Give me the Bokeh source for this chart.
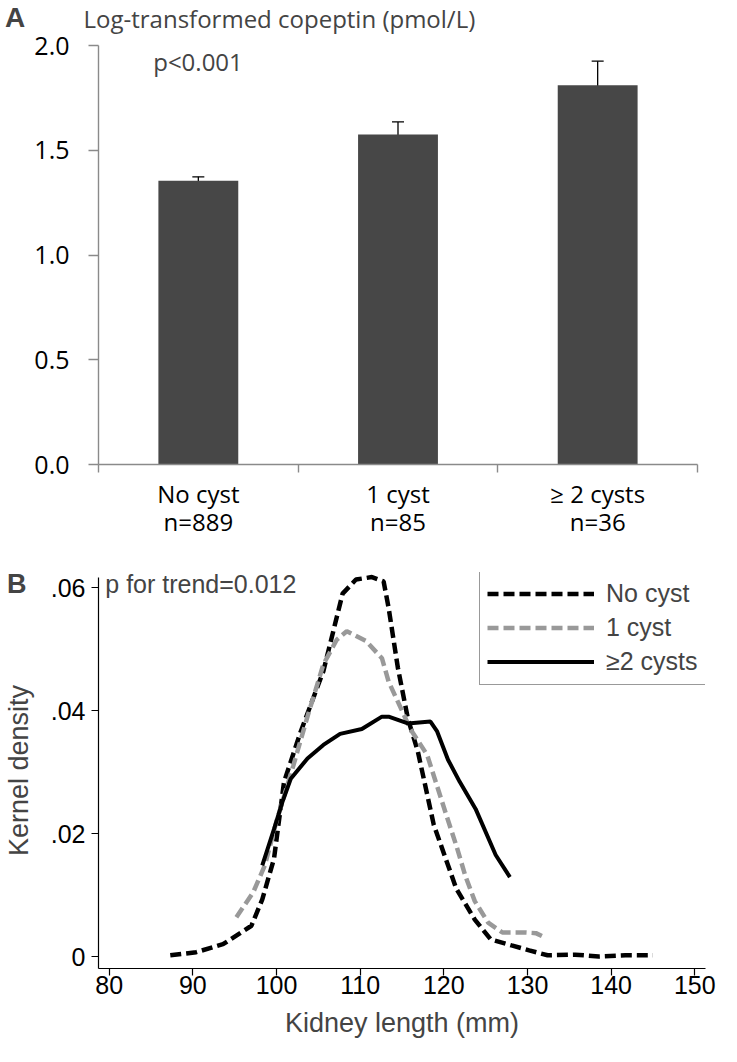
from bokeh.plotting import figure
from bokeh.layouts import column
from bokeh.models import (Range1d, LinearAxis, FixedTicker, PrintfTickFormatter, Whisker,
                          TeeHead, ColumnDataSource, Label, Legend, LegendItem)
from bokeh.embed import file_html
from bokeh.resources import INLINE

# ---------------- data: panel A ----------------
categories = ["No cyst", "1 cyst", "\u2265 2 cysts"]
n_labels = ["n=889", "n=85", "n=36"]
copeptin_mean = [1.355, 1.575, 1.81]
copeptin_low = [1.335, 1.52, 1.69]
copeptin_high = [1.373, 1.635, 1.925]
y_ticks_a = [0.0, 0.5, 1.0, 1.5, 2.0]

# ---------------- data: panel B ----------------
no_cyst_x = [87.3, 90.4, 93.6, 97.0, 98.3, 99.7, 100.9, 102.9, 105.6, 107.9, 109.5, 111.4, 112.8,
             113.4, 114.5, 115.7, 116.9, 118.8, 121.5, 123.7, 125.6, 128.1, 130.2, 132.4, 135.7,
             138.5, 141.7, 145.0]
no_cyst_y = [0.0002, 0.0007, 0.002, 0.005, 0.0093, 0.0159, 0.0284, 0.0366, 0.0464, 0.059, 0.0613,
             0.0617, 0.061, 0.0567, 0.047, 0.0387, 0.0333, 0.0214, 0.011, 0.006, 0.0028, 0.0018,
             0.001, 0.0002, 0.0003, 0.0, 0.0002, 0.0002]
one_cyst_x = [95.2, 97.2, 98.6, 100.0, 102.0, 103.7, 105.6, 107.2, 108.4, 110.7, 112.6, 113.4,
              116.0, 118.0, 120.3, 121.5, 122.6, 123.7, 125.3, 127.0, 129.8, 131.0, 132.2]
one_cyst_y = [0.0064, 0.0104, 0.0148, 0.022, 0.031, 0.039, 0.0475, 0.0515, 0.0529, 0.0513, 0.0485,
              0.0447, 0.037, 0.0328, 0.023, 0.018, 0.013, 0.009, 0.0055, 0.0039, 0.0039, 0.0038,
              0.003]
two_cyst_x = [98.3, 99.7, 100.7, 101.7, 103.7, 105.6, 107.6, 110.2, 112.6, 113.4, 115.7, 118.4,
              119.2, 120.5, 121.9, 123.8, 126.2, 127.9]
two_cyst_y = [0.0148, 0.0207, 0.0251, 0.0289, 0.0322, 0.0344, 0.0362, 0.037, 0.039, 0.039, 0.0379,
              0.0382, 0.0366, 0.032, 0.0284, 0.024, 0.0165, 0.0129]
x_ticks_b = [80, 90, 100, 110, 120, 130, 140, 150]
y_ticks_b = [0.0, 0.02, 0.04, 0.06]
y_tick_labels_b = ["0", ".02", ".04", ".06"]
legend_labels = ["No cyst", "1 cyst", "\u22652 cysts"]

FONT_A = "Open Sans"
FONT_B = "Liberation Sans"
GRAY_AX = "#8a8a8a"

# ================= Panel A =================
pa = figure(width=721, height=540, x_range=Range1d(0, 3), y_range=Range1d(0, 2.0),
            output_backend="svg", toolbar_location=None, title=None,
            x_axis_location=None, y_axis_location=None,
            min_border_left=94, min_border_right=24, min_border_top=45, min_border_bottom=76)
pa.outline_line_color = None
pa.xgrid.visible = False
pa.ygrid.visible = False

positions = [i + 0.5 for i in range(len(categories))]
src_a = ColumnDataSource(dict(x=positions, top=copeptin_mean, low=copeptin_low, high=copeptin_high))
pa.vbar(x="x", top="top", bottom=0, width=0.4, source=src_a, fill_color="#474747", line_color=None)
wh = Whisker(base="x", upper="high", lower="low", source=src_a, line_color="black", line_width=1.3,
             upper_head=TeeHead(size=12, line_color="black", line_width=1.3),
             lower_head=TeeHead(size=12, line_color="black", line_width=1.3))
pa.add_layout(wh)

ya = LinearAxis(ticker=FixedTicker(ticks=y_ticks_a), formatter=PrintfTickFormatter(format="%.1f"),
                axis_line_color=GRAY_AX, axis_line_width=1.4,
                major_tick_line_color=GRAY_AX, major_tick_line_width=1.4,
                major_tick_in=0, major_tick_out=10, minor_tick_line_color=None,
                major_label_standoff=19, major_label_text_font=FONT_A,
                major_label_text_font_size="25px", major_label_text_color="black")
pa.add_layout(ya, "left")

bounds = list(range(len(categories) + 1))
xa = LinearAxis(ticker=FixedTicker(ticks=bounds),
                axis_line_color=GRAY_AX, axis_line_width=1.4,
                major_tick_line_color=GRAY_AX, major_tick_line_width=1.4,
                major_tick_in=0, major_tick_out=8, minor_tick_line_color=None,
                major_label_overrides={b: "" for b in bounds}, major_label_standoff=0,
                major_label_text_font_size="1px")
pa.add_layout(xa, "below")

xl = LinearAxis(ticker=FixedTicker(ticks=positions),
                axis_line_color=None, major_tick_line_color=None, minor_tick_line_color=None,
                major_tick_out=0, major_tick_in=0,
                major_label_overrides={p: f"{c}\n{n}" for p, c, n in zip(positions, categories, n_labels)},
                major_label_standoff=4, major_label_text_font=FONT_A,
                major_label_text_line_height=0.86,
                major_label_text_font_size="24px", major_label_text_color="black")
pa.add_layout(xl, "below")

pa.add_layout(Label(x=-0.4677, y=2.135, text="A", text_font=FONT_B, text_font_style="bold",
                    text_font_size="28px", text_baseline="middle", text_align="left"), "left")
pa.add_layout(Label(x=-0.075, y=2.131, text="Log-transformed copeptin (pmol/L)", text_font=FONT_A,
                    text_font_size="24px", text_baseline="middle", text_align="left"), "above")
pa.add_layout(Label(x=0.274, y=1.924, text="p<0.001", text_font=FONT_A,
                    text_font_size="24px", text_baseline="middle", text_align="left"))

# ================= Panel B =================
pb = figure(width=729, height=506, x_range=Range1d(78.72, 151.28), y_range=Range1d(-0.00195, 0.06244),
            output_backend="svg", toolbar_location=None, title=None,
            x_axis_location=None, y_axis_location=None,
            min_border_left=94, min_border_right=11, min_border_top=32, min_border_bottom=78)
pb.outline_line_color = None
pb.xgrid.visible = False
pb.ygrid.visible = False

r0 = pb.line(no_cyst_x, no_cyst_y, line_color="black", line_width=4.5, line_dash="11 5")
r1 = pb.line(one_cyst_x, one_cyst_y, line_color="#999999", line_width=4.5, line_dash="11 5")
r2 = pb.line(two_cyst_x, two_cyst_y, line_color="black", line_width=4.0)

yb = LinearAxis(ticker=FixedTicker(ticks=y_ticks_b), bounds=(-0.00195, 0.06163),
                major_label_overrides=dict(zip(y_ticks_b, y_tick_labels_b)),
                axis_line_color="black", axis_line_width=1.2,
                major_tick_line_color="black", major_tick_line_width=1.2,
                major_tick_in=0, major_tick_out=7, minor_tick_line_color=None,
                major_label_standoff=6, major_label_text_font=FONT_B,
                major_label_text_font_size="25px", major_label_text_color="black",
                axis_label="Kernel density", axis_label_text_font=FONT_B,
                axis_label_text_font_size="27px", axis_label_text_font_style="normal",
                axis_label_standoff=14)
pb.add_layout(yb, "left")

xb = LinearAxis(ticker=FixedTicker(ticks=x_ticks_b),
                axis_line_color="black", axis_line_width=1.2,
                major_tick_line_color="black", major_tick_line_width=1.2,
                major_tick_in=0, major_tick_out=7, minor_tick_line_color=None,
                major_label_standoff=0, major_label_text_font=FONT_B,
                major_label_text_font_size="25px", major_label_text_color="black",
                axis_label="Kidney length (mm)", axis_label_text_font=FONT_B,
                axis_label_text_font_size="27px", axis_label_text_font_style="normal",
                axis_label_standoff=11)
pb.add_layout(xb, "below")

legend = Legend(items=[LegendItem(label=legend_labels[0], renderers=[r0]),
                       LegendItem(label=legend_labels[1], renderers=[r1]),
                       LegendItem(label=legend_labels[2], renderers=[r2])],
                location=(381, 283), padding=7, margin=0, spacing=3,
                glyph_width=107, glyph_height=31, label_height=31, label_standoff=12,
                label_text_font=FONT_B, label_text_font_size="25px",
                border_line_color="#333333", border_line_width=1.3,
                background_fill_color="white", background_fill_alpha=1.0)
pb.add_layout(legend)

pb.add_layout(Label(x=67.79, y=0.06065, text="B", text_font=FONT_B, text_font_style="bold",
                    text_font_size="27px", text_baseline="middle", text_align="left"), "above")
pb.add_layout(Label(x=79.53, y=0.0605, text="p for trend=0.012", text_font=FONT_B,
                    text_font_size="25px", text_baseline="middle", text_align="left"))

layout = column(pa, pb, spacing=0)
open("out.html", "w").write(file_html(layout, INLINE))
